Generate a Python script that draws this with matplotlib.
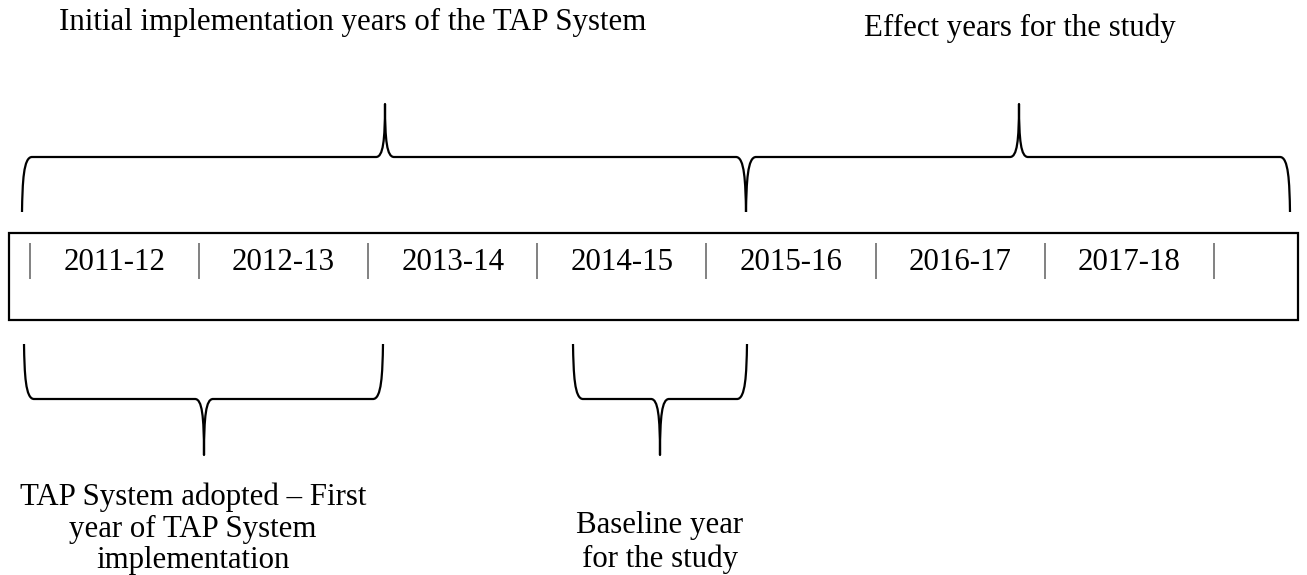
import matplotlib
matplotlib.use("Agg")
import matplotlib.pyplot as plt
from matplotlib.path import Path
from matplotlib.patches import PathPatch, Rectangle

# ---- data ----
years = ["2011-12", "2012-13", "2013-14", "2014-15", "2015-16", "2016-17", "2017-18"]
top_labels = ["Initial implementation years of the TAP System", "Effect years for the study"]
bottom_labels = ["TAP System adopted \u2013 First\nyear of TAP System\nimplementation",
                 "Baseline year\nfor the study"]

W, H = 1307, 575
fig = plt.figure(figsize=(W / 100, H / 100), dpi=100)
ax = fig.add_axes([0, 0, 1, 1])
ax.set_xlim(0, W)
ax.set_ylim(H, 0)
ax.axis("off")

FONT = "Liberation Serif"
FS = 22.2
LW = 1.6

# timeline box
box_x0, box_x1, box_y0, box_y1 = 9, 1298, 233, 320
ax.add_patch(Rectangle((box_x0, box_y0), box_x1 - box_x0, box_y1 - box_y0,
                       fill=False, ec="black", lw=LW))

sep_x0, step = 30, 169.1
for i in range(len(years) + 1):
    x = sep_x0 + i * step
    ax.plot([x, x], [243, 279], color="#777777", lw=1.3, solid_capstyle="butt")
for i, y in enumerate(years):
    xc = sep_x0 + (i + 0.5) * step
    ax.text(xc, 263, y, ha="center", va="center", fontsize=FS, family=FONT)


def brace(x0, x1, xm, y_end, y_h, y_tip):
    d = y_end - y_h
    t = y_tip - y_h
    verts = [
        (x0, y_end),
        (x0 + 0.5, y_h + 0.45 * d), (x0 + 1.5, y_h), (x0 + 10, y_h),
        (xm - 9, y_h),
        (xm - 2, y_h), (xm, y_h + 0.3 * t), (xm, y_tip),
        (xm, y_h + 0.3 * t), (xm + 2, y_h), (xm + 9, y_h),
        (x1 - 10, y_h),
        (x1 - 1.5, y_h), (x1 - 0.5, y_h + 0.45 * d), (x1, y_end),
    ]
    codes = [Path.MOVETO,
             Path.CURVE4, Path.CURVE4, Path.CURVE4,
             Path.LINETO,
             Path.CURVE4, Path.CURVE4, Path.CURVE4,
             Path.CURVE4, Path.CURVE4, Path.CURVE4,
             Path.LINETO,
             Path.CURVE4, Path.CURVE4, Path.CURVE4]
    ax.add_patch(PathPatch(Path(verts, codes), fill=False, ec="black", lw=LW,
                           capstyle="butt", joinstyle="round"))


# top braces
brace(22, 746, 385, 212, 157, 104)
brace(746, 1290, 1019, 212, 157, 104)
# bottom braces
brace(24, 383, 204, 344, 399, 455)
brace(573, 747, 660, 344, 399, 455)

ax.text(353, 22, top_labels[0], ha="center", va="center", fontsize=FS, family=FONT)
ax.text(1020, 28, top_labels[1], ha="center", va="center", fontsize=FS, family=FONT)
ax.text(193, 529, bottom_labels[0], ha="center", va="center", fontsize=FS,
        family=FONT, linespacing=1.12)
ax.text(660, 543, bottom_labels[1], ha="center", va="center", fontsize=FS,
        family=FONT, linespacing=1.2)

fig.savefig("out.png", dpi=100, facecolor="white")
